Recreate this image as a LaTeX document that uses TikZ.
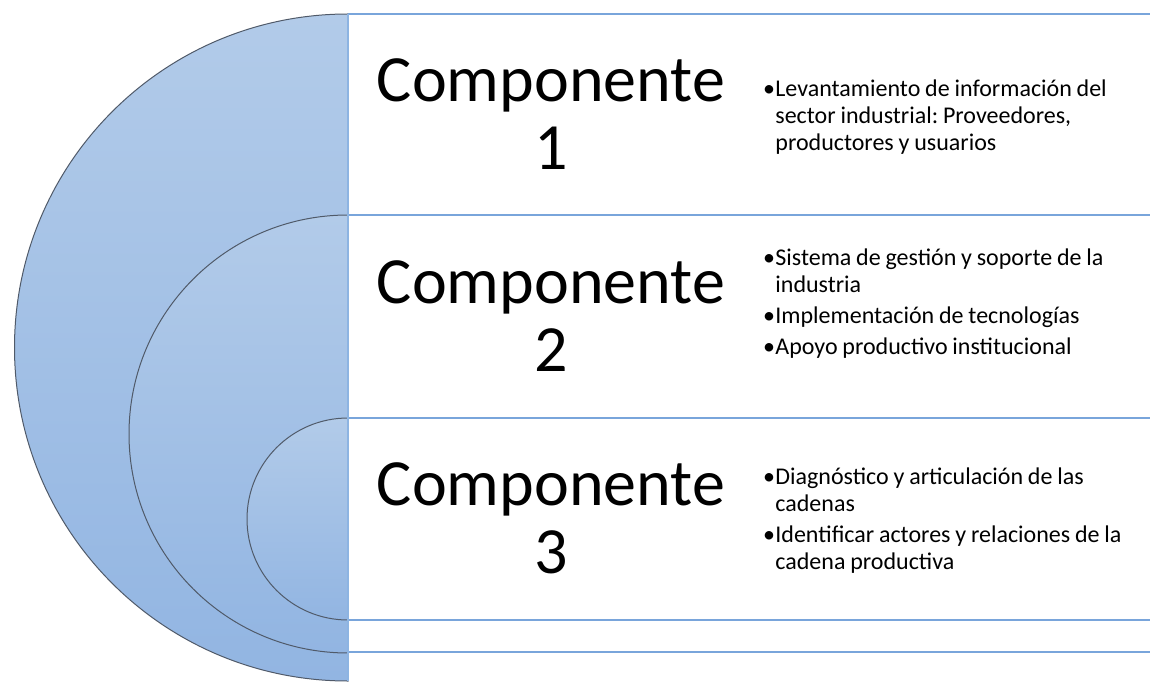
\documentclass[tikz,border=0pt]{standalone}
\usepackage{fontspec}
\setmainfont{Carlito}
\usetikzlibrary{positioning}
\definecolor{bandline}{RGB}{121,165,219}
\definecolor{vline}{RGB}{141,180,226}
\definecolor{halftop}{RGB}{178,203,233}
\definecolor{halfbot}{RGB}{146,181,226}
\definecolor{halfedge}{RGB}{80,90,105}
\tikzstyle{half} = [draw=halfedge, line width=0.5pt, top color=halftop, bottom color=halfbot]
\tikzstyle{band} = [draw=bandline, line width=0.75pt]
\tikzstyle{title} = [align=center, inner sep=0pt, font=\fontsize{33}{34}\selectfont]
\tikzstyle{list} = [anchor=west, text width=190pt, align=left, inner sep=0pt,
    font=\fontsize{12}{13.5}\selectfont\frenchspacing\setlength{\parskip}{2pt}]
\newcommand{\itm}[1]{\par\noindent\raggedright\spaceskip=0.2em plus 0.1em\relax
    \hangindent=6.5pt\hangafter=1\makebox[6.5pt][l]{\hspace{0.3pt}•}#1\par}

\begin{document}
\begin{tikzpicture}[x=0.5pt,y=0.5pt]
\useasboundingbox (0,0) rectangle (1150,681);

% the three half discs, biggest first
\draw[half] (348,667) arc (90:270:333.5) -- cycle;
\draw[half] (348,466) arc (90:270:219) -- cycle;
\draw[half] (348,263) arc (90:270:101) -- cycle;

% bands on the right
\foreach \y in {667,466,263,61,29}
    \draw[band] (348,\y) -- (1150,\y);
\draw[band, draw=vline] (348,667) -- (348,0);

% titles
\node[title] (comp1) at (551,567) {Componente\\1};
\node[title] (comp2) at (551,364.5) {Componente\\2};
\node[title] (comp3) at (551,163) {Componente\\3};

% bullet lists
\node[list] (list1) at (762,571) {\itm{Levantamiento de información del\newline sector industrial: Proveedores,\newline productores y usuarios}};
\node[list] (list2) at (762,385) {\itm{Sistema de gestión y soporte de la\newline industria}\itm{Implementación de tecnologías}\itm{Apoyo productivo institucional}};
\node[list] (list3) at (762,168) {\itm{Diagnóstico y articulación de las\newline cadenas}\itm{Identificar actores y relaciones de la\newline cadena productiva}};

\end{tikzpicture}
\end{document}
